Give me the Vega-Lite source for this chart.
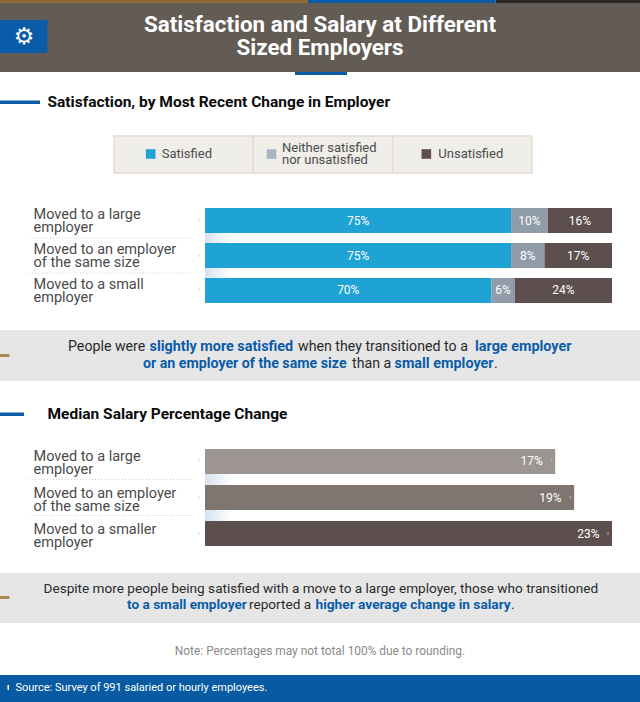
{
  "$schema": "https://vega.github.io/schema/vega-lite/v6.json",
  "padding": 0,
  "background": "white",
  "spacing": 0,
  "bounds": "flush",
  "resolve": {"scale": {"color": "independent"}},
  "config": {
    "font": "Roboto",
    "view": {"stroke": null},
    "axisX": {"disable": true},
    "axisY": {"disable": true},
    "style": {"guide-label": {"lineHeight": 13}}
  },
  "datasets": {
    "satisfaction": [
      {"employer": "Moved to a large|employer", "rank": 1, "response": "Satisfied", "value": 75.2, "label": "75%"},
      {"employer": "Moved to a large|employer", "rank": 2, "response": "Neither", "value": 9, "label": "10%"},
      {"employer": "Moved to a large|employer", "rank": 3, "response": "Unsatisfied", "value": 15.8, "label": "16%"},
      {"employer": "Moved to an employer|of the same size", "rank": 1, "response": "Satisfied", "value": 75.2, "label": "75%"},
      {"employer": "Moved to an employer|of the same size", "rank": 2, "response": "Neither", "value": 8.2, "label": "8%"},
      {"employer": "Moved to an employer|of the same size", "rank": 3, "response": "Unsatisfied", "value": 16.6, "label": "17%"},
      {"employer": "Moved to a small|employer", "rank": 1, "response": "Satisfied", "value": 70.4, "label": "70%"},
      {"employer": "Moved to a small|employer", "rank": 2, "response": "Neither", "value": 5.7, "label": "6%"},
      {"employer": "Moved to a small|employer", "rank": 3, "response": "Unsatisfied", "value": 23.9, "label": "24%"}
    ],
    "satisfactionRows": [
      {"employer": "Moved to a large|employer"},
      {"employer": "Moved to an employer|of the same size"},
      {"employer": "Moved to a small|employer"}
    ],
    "salary": [
      {"employer": "Moved to a large|employer", "value": 17, "label": "17%"},
      {"employer": "Moved to an employer|of the same size", "value": 19, "label": "19%"},
      {"employer": "Moved to a smaller|employer", "value": 23, "label": "23%"}
    ],
    "legend": [
      {"item": "Satisfied"},
      {"item": "Neither satisfied|nor unsatisfied"},
      {"item": "Unsatisfied"}
    ]
  },
  "vconcat": [
    {
      "width": 640, "height": 3,
      "data": {"values": [{"band": "top"}]},
      "layer": [
        {"mark": {"type": "rect", "color": "#8f6c35"}, "encoding": {"x": {"datum": 0, "scale": {"domain": [0, 640], "nice": false}}, "x2": {"datum": 308}}},
        {"mark": {"type": "rect", "color": "#0a5ca8"}, "encoding": {"x": {"datum": 308}, "x2": {"datum": 495.5}}},
        {"mark": {"type": "rect", "color": "#2b2523"}, "encoding": {"x": {"datum": 495.5}, "x2": {"datum": 640}}}
      ]
    },
    {
      "width": 640, "height": 69,
      "view": {"fill": "#625c55"},
      "data": {"values": [{"title": "Satisfaction and Salary at Different|Sized Employers", "icon": "⚙"}]},
      "layer": [
        {"mark": {"type": "rect", "color": "#0a5ca8"}, "encoding": {"x": {"datum": 0, "scale": {"domain": [0, 640], "nice": false}}, "x2": {"datum": 47.5}, "y": {"datum": 17, "scale": {"domain": [69, 0], "nice": false}}, "y2": {"datum": 50}}},
        {"mark": {"type": "text", "font": "DejaVu Sans", "fontSize": 23, "color": "white"}, "encoding": {"text": {"field": "icon"}, "x": {"datum": 24}, "y": {"datum": 33.5}}},
        {"mark": {"type": "text", "fontSize": 22.4, "fontWeight": "bold", "color": "white", "lineBreak": "|", "lineHeight": 23}, "encoding": {"text": {"field": "title"}, "x": {"datum": 320}, "y": {"datum": 22}}}
      ]
    },
    {
      "width": 640, "height": 64,
      "data": {"values": [{"heading": "Satisfaction, by Most Recent Change in Employer"}]},
      "layer": [
        {"mark": {"type": "rect", "color": "#0a5ca8"}, "encoding": {"x": {"datum": 295, "scale": {"domain": [0, 640], "nice": false}}, "x2": {"datum": 347}, "y": {"datum": 0, "scale": {"domain": [64, 0], "nice": false}}, "y2": {"datum": 3}}},
        {"mark": {"type": "rect", "color": "#0a5ca8"}, "encoding": {"x": {"datum": 0}, "x2": {"datum": 40}, "y": {"datum": 28.5}, "y2": {"datum": 32}}},
        {"mark": {"type": "text", "fontSize": 15.5, "fontWeight": "bold", "color": "#0b0b0b", "align": "left"}, "encoding": {"text": {"field": "heading"}, "x": {"datum": 47.5}, "y": {"datum": 30}}}
      ]
    },
    {
      "width": 640, "height": 72,
      "data": {"name": "legend"},
      "encoding": {
        "x": {"field": "item", "type": "nominal", "sort": null, "scale": {"paddingInner": 0, "paddingOuter": 0.7967, "align": 0.5135}}
      },
      "layer": [
        {"mark": {"type": "rect", "fill": "#efeee9", "stroke": "#e4dcd0", "strokeWidth": 1.5}, "encoding": {"y": {"datum": 0, "scale": {"domain": [72, 0], "nice": false}}, "y2": {"datum": 37}}},
        {"transform": [{"filter": "datum.item == 'Satisfied'"}], "mark": {"type": "square", "size": 92, "color": "#1fa3d4", "opacity": 1, "xOffset": -33}, "encoding": {"y": {"datum": 18}}},
        {"transform": [{"filter": "datum.item == 'Satisfied'"}], "mark": {"type": "text", "fontSize": 13, "color": "#4d4d4d", "align": "left", "dx": -22, "lineBreak": "|", "lineHeight": 12}, "encoding": {"text": {"field": "item"}, "y": {"datum": 18}}},
        {"transform": [{"filter": "datum.item == 'Neither satisfied|nor unsatisfied'"}], "mark": {"type": "square", "size": 92, "color": "#a7b4c2", "opacity": 1, "xOffset": -51.5}, "encoding": {"y": {"datum": 18}}},
        {"transform": [{"filter": "datum.item == 'Neither satisfied|nor unsatisfied'"}], "mark": {"type": "text", "fontSize": 13, "color": "#4d4d4d", "align": "left", "dx": -41, "lineBreak": "|", "lineHeight": 12}, "encoding": {"text": {"field": "item"}, "y": {"datum": 12}}},
        {"transform": [{"filter": "datum.item == 'Unsatisfied'"}], "mark": {"type": "square", "size": 92, "color": "#5d4f4e", "opacity": 1, "xOffset": -36}, "encoding": {"y": {"datum": 18}}},
        {"transform": [{"filter": "datum.item == 'Unsatisfied'"}], "mark": {"type": "text", "fontSize": 13, "color": "#4d4d4d", "align": "left", "dx": -24, "lineBreak": "|", "lineHeight": 12}, "encoding": {"text": {"field": "item"}, "y": {"datum": 18}}}
      ]
    },
    {
      "width": 640, "height": 95,
      "encoding": {
        "y": {
          "field": "employer", "type": "nominal", "sort": null,
          "scale": {"paddingInner": 0.2857, "paddingOuter": 0},
          "axis": {"disable": false, "title": null, "domain": false, "ticks": false, "grid": false, "labelExpr": "split(datum.label, '|')", "labelAlign": "left", "labelPadding": -33, "labelOffset": -5.5, "labelFontSize": 14.5, "labelColor": "#4a4a4a", "labelLimit": 0}
        }
      },
      "layer": [
        {
          "data": {"name": "satisfactionRows"},
          "transform": [{"filter": "datum.employer != 'Moved to a small|employer'"}],
          "layer": [
            {"mark": {"type": "rule", "color": "#cfcfcf", "strokeDash": [1, 2], "yOffset": 17.5}, "encoding": {"x": {"datum": -43.2, "scale": {"domain": [-50.37, 106.88], "nice": false}}, "x2": {"datum": -2.9}}},
            {"mark": {"type": "bar", "height": 10, "yOffset": 17.5, "color": {"gradient": "linear", "x1": 0, "x2": 1, "y1": 0, "y2": 0, "stops": [{"offset": 0, "color": "#d5e2f2"}, {"offset": 1, "color": "#ffffff"}]}}, "encoding": {"x": {"datum": 0}, "x2": {"datum": 6.5}}}
          ]
        },
        {
          "data": {"name": "satisfactionRows"},
          "mark": {"type": "text", "text": "‹", "fontSize": 8, "color": "#c4c4c4", "dx": -6},
          "encoding": {"x": {"datum": 0}}
        },
        {
          "data": {"name": "satisfaction"},
          "layer": [
            {
              "mark": {"type": "bar"},
              "encoding": {
                "x": {"field": "value", "type": "quantitative", "stack": "zero"},
                "order": {"field": "rank"},
                "color": {"field": "response", "type": "nominal", "legend": null, "scale": {"domain": ["Satisfied", "Neither", "Unsatisfied"], "range": ["#1fa3d4", "#909ca8", "#5d4f4e"]}}
              }
            },
            {
              "mark": {"type": "text", "color": "white", "fontSize": 12},
              "encoding": {
                "x": {"field": "value", "type": "quantitative", "stack": "zero", "bandPosition": 0.5},
                "order": {"field": "rank"},
                "detail": {"field": "response"},
                "text": {"field": "label"}
              }
            }
          ]
        }
      ]
    },
    {
      "width": 640, "height": 78,
      "data": {"values": [{"row": 1}]},
      "layer": [
        {"mark": {"type": "rect", "color": "#e6e6e7"}, "encoding": {"x": {"datum": 0, "scale": {"domain": [0, 640], "nice": false}}, "x2": {"datum": 640}, "y": {"datum": 27, "scale": {"domain": [78, 0], "nice": false}}, "y2": {"datum": 78}}},
        {"mark": {"type": "rect", "color": "#a88a55"}, "encoding": {"x": {"datum": 0}, "x2": {"datum": 9.5}, "y": {"datum": 51}, "y2": {"datum": 54}}},
        {"mark": {"type": "text", "text": "People were", "fontSize": 14.2, "color": "#2a2a2a", "align": "left"}, "encoding": {"x": {"datum": 68}, "y": {"datum": 44}}},
        {"mark": {"type": "text", "text": "slightly more satisfied", "fontSize": 14.4, "fontWeight": "bold", "color": "#0a5ca8", "align": "left"}, "encoding": {"x": {"datum": 149.5}, "y": {"datum": 44}}},
        {"mark": {"type": "text", "text": "when they transitioned to a", "fontSize": 14.2, "color": "#2a2a2a", "align": "left"}, "encoding": {"x": {"datum": 298}, "y": {"datum": 44}}},
        {"mark": {"type": "text", "text": "large employer", "fontSize": 14.4, "fontWeight": "bold", "color": "#0a5ca8", "align": "left"}, "encoding": {"x": {"datum": 475}, "y": {"datum": 44}}},
        {"mark": {"type": "text", "text": "or an employer of the same size", "fontSize": 14.2, "fontWeight": "bold", "color": "#0a5ca8", "align": "left"}, "encoding": {"x": {"datum": 143}, "y": {"datum": 61}}},
        {"mark": {"type": "text", "text": "than a", "fontSize": 14.2, "color": "#2a2a2a", "align": "left"}, "encoding": {"x": {"datum": 352}, "y": {"datum": 61}}},
        {"mark": {"type": "text", "text": "small employer", "fontSize": 14.4, "fontWeight": "bold", "color": "#0a5ca8", "align": "left"}, "encoding": {"x": {"datum": 394.5}, "y": {"datum": 61}}},
        {"mark": {"type": "text", "text": ".", "fontSize": 14.2, "color": "#2a2a2a", "align": "left"}, "encoding": {"x": {"datum": 494}, "y": {"datum": 61}}}
      ]
    },
    {
      "width": 640, "height": 68,
      "data": {"values": [{"heading": "Median Salary Percentage Change"}]},
      "layer": [
        {"mark": {"type": "rect", "color": "#0a5ca8"}, "encoding": {"x": {"datum": 0, "scale": {"domain": [0, 640], "nice": false}}, "x2": {"datum": 24}, "y": {"datum": 31.5, "scale": {"domain": [68, 0], "nice": false}}, "y2": {"datum": 35}}},
        {"mark": {"type": "text", "fontSize": 15.5, "fontWeight": "bold", "color": "#0b0b0b", "align": "left"}, "encoding": {"text": {"field": "heading"}, "x": {"datum": 47.5}, "y": {"datum": 33}}}
      ]
    },
    {
      "width": 640, "height": 97,
      "data": {"name": "salary"},
      "encoding": {
        "y": {
          "field": "employer", "type": "nominal", "sort": null,
          "scale": {"paddingInner": 0.3056, "paddingOuter": 0},
          "axis": {"disable": false, "title": null, "domain": false, "ticks": false, "grid": false, "labelExpr": "split(datum.label, '|')", "labelAlign": "left", "labelPadding": -33, "labelOffset": -4, "labelFontSize": 14.5, "labelColor": "#4a4a4a", "labelLimit": 0}
        }
      },
      "layer": [
        {
          "transform": [{"filter": "datum.employer != 'Moved to a smaller|employer'"}],
          "layer": [
            {"mark": {"type": "rule", "color": "#cfcfcf", "strokeDash": [1, 2], "yOffset": 18}, "encoding": {"x": {"datum": -38.6, "scale": {"domain": [-41.66, 25.96], "nice": false}}, "x2": {"datum": -21.3}}},
            {"mark": {"type": "bar", "height": 11, "yOffset": 18, "color": {"gradient": "linear", "x1": 0, "x2": 1, "y1": 0, "y2": 0, "stops": [{"offset": 0, "color": "#d5e2f2"}, {"offset": 1, "color": "#ffffff"}]}}, "encoding": {"x": {"datum": -20}, "x2": {"datum": -17.2}}}
          ]
        },
        {"mark": {"type": "text", "text": "‹", "fontSize": 8, "color": "#c4c4c4", "dx": -6}, "encoding": {"x": {"datum": -20}}},
        {
          "mark": {"type": "rect"},
          "encoding": {
            "x": {"field": "value", "type": "quantitative"},
            "x2": {"datum": -20},
            "color": {"field": "employer", "type": "nominal", "legend": null, "scale": {"domain": ["Moved to a large|employer", "Moved to an employer|of the same size", "Moved to a smaller|employer"], "range": ["#9d9592", "#7f7672", "#5c4f4d"]}}
          }
        },
        {
          "mark": {"type": "text", "color": "white", "fontSize": 12, "align": "right", "dx": -12.5},
          "encoding": {"x": {"field": "value", "type": "quantitative"}, "text": {"field": "label"}}
        },
        {"mark": {"type": "text", "text": "‹", "fontSize": 8, "color": "#d6d6d6", "dx": -4}, "encoding": {"x": {"field": "value", "type": "quantitative"}}}
      ]
    },
    {
      "width": 640, "height": 156,
      "data": {"values": [{"row": 1}]},
      "layer": [
        {"mark": {"type": "rect", "color": "#e6e6e7"}, "encoding": {"x": {"datum": 0, "scale": {"domain": [0, 640], "nice": false}}, "x2": {"datum": 640}, "y": {"datum": 27, "scale": {"domain": [156, 0], "nice": false}}, "y2": {"datum": 77}}},
        {"mark": {"type": "rect", "color": "#a88a55"}, "encoding": {"x": {"datum": 0}, "x2": {"datum": 9.5}, "y": {"datum": 50}, "y2": {"datum": 53}}},
        {"mark": {"type": "text", "text": "Despite more people being satisfied with a move to a large employer, those who transitioned", "fontSize": 13.6, "color": "#2a2a2a", "align": "left"}, "encoding": {"x": {"datum": 43.5}, "y": {"datum": 43}}},
        {"mark": {"type": "text", "text": "to a small employer", "fontSize": 13.6, "fontWeight": "bold", "color": "#0a5ca8", "align": "left"}, "encoding": {"x": {"datum": 127}, "y": {"datum": 59}}},
        {"mark": {"type": "text", "text": "reported a", "fontSize": 13.6, "color": "#2a2a2a", "align": "left"}, "encoding": {"x": {"datum": 249}, "y": {"datum": 59}}},
        {"mark": {"type": "text", "text": "higher average change in salary", "fontSize": 13.7, "fontWeight": "bold", "color": "#0a5ca8", "align": "left"}, "encoding": {"x": {"datum": 315.5}, "y": {"datum": 59}}},
        {"mark": {"type": "text", "text": ".", "fontSize": 13.6, "color": "#2a2a2a", "align": "left"}, "encoding": {"x": {"datum": 511}, "y": {"datum": 59}}},
        {"mark": {"type": "text", "text": "Note: Percentages may not total 100% due to rounding.", "fontSize": 11.9, "color": "#8a8a8a"}, "encoding": {"x": {"datum": 320}, "y": {"datum": 104.5}}},
        {"mark": {"type": "rect", "color": "#085ba3"}, "encoding": {"x": {"datum": 0}, "x2": {"datum": 640}, "y": {"datum": 129}, "y2": {"datum": 156}}},
        {"mark": {"type": "rect", "color": "#ffffff"}, "encoding": {"x": {"datum": 7.5}, "x2": {"datum": 9}, "y": {"datum": 139}, "y2": {"datum": 144}}},
        {"mark": {"type": "text", "text": "Source: Survey of 991 salaried or hourly employees.", "fontSize": 11, "color": "#ffffff", "align": "left"}, "encoding": {"x": {"datum": 15.5}, "y": {"datum": 141.5}}}
      ]
    }
  ]
}
